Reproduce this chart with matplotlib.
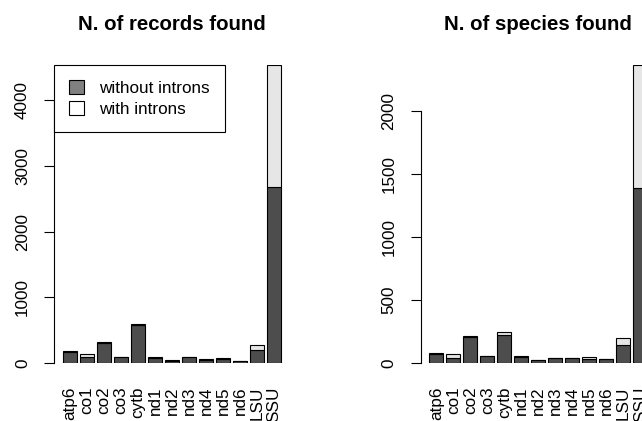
import matplotlib
matplotlib.use('Agg')
import matplotlib.pyplot as plt
from matplotlib.patches import Patch
import numpy as np

plt.rcParams['font.family'] = ['Liberation Sans', 'DejaVu Sans']

genes = ['atp6', 'co1', 'co2', 'co3', 'cytb', 'nd1', 'nd2', 'nd3', 'nd4',
         'nd5', 'nd6', 'LSU', 'SSU']

# records found
rec_without = [172, 91, 299, 91, 572, 71, 30, 91, 51, 61, 35, 203, 2675]
rec_with = [5, 46, 20, 0, 25, 20, 16, 0, 15, 15, 0, 75, 1858]

# species found
sp_without = [71, 37, 208, 53, 218, 45, 20, 42, 36, 32, 29, 140, 1385]
sp_with = [8, 31, 8, 0, 27, 8, 6, 0, 6, 15, 0, 57, 976]

dark = '#4D4D4D'
light = '#E6E6E6'

fig = plt.figure(figsize=(6.42, 4.21), dpi=100)
W, H = 642, 421

x = 0.7 + 1.2 * np.arange(len(genes))


def panel(left_px, without, with_, title, ticks):
    ax = fig.add_axes([left_px / W, (H - 363) / H, 235.4 / W, 298 / H])
    ax.bar(x, without, width=1, color=dark, edgecolor='black', linewidth=0.8)
    ax.bar(x, with_, width=1, bottom=without, color=light,
           edgecolor='black', linewidth=0.8)
    top = max(np.array(without) + np.array(with_))
    ax.set_xlim(-0.416, 16.216)
    ax.set_ylim(0, top)
    for s in ['top', 'right', 'bottom']:
        ax.spines[s].set_visible(False)
    ax.spines['left'].set_bounds(ticks[0], ticks[-1])
    ax.spines['left'].set_linewidth(0.8)
    ax.set_yticks(ticks)
    ax.set_yticklabels([str(t) for t in ticks], rotation=90, va='center',
                       fontsize=12.3)
    ax.tick_params(axis='y', length=7.5, width=0.8, pad=10)
    ax.set_xticks(x)
    ax.set_xticklabels(genes, rotation=90, fontsize=12.3)
    ax.tick_params(axis='x', length=0, pad=17)
    ax.text(0.5, 1 + 35 / 298, title, transform=ax.transAxes, ha='center',
            va='baseline', fontsize=14.7, fontweight='bold')
    return ax


ax1 = panel(54.3, rec_without, rec_with, 'N. of records found',
            [0, 1000, 2000, 3000, 4000])
ax2 = panel(420.6, sp_without, sp_with, 'N. of species found',
            [0, 500, 1000, 1500, 2000])

handles = [Patch(facecolor='#808080', edgecolor='black', linewidth=0.8),
           Patch(facecolor='white', edgecolor='black', linewidth=0.8)]
leg = ax1.legend(handles, ['without introns', 'with introns'],
                 loc='upper left', bbox_to_anchor=(0, 1), borderaxespad=0,
                 fontsize=12.3, fancybox=False, framealpha=1,
                 edgecolor='black', handlelength=0.85, handleheight=0.85,
                 handletextpad=0.9, labelspacing=0.32, borderpad=0.88)
leg.get_frame().set_linewidth(0.8)

fig.savefig('out.png', dpi=100)
